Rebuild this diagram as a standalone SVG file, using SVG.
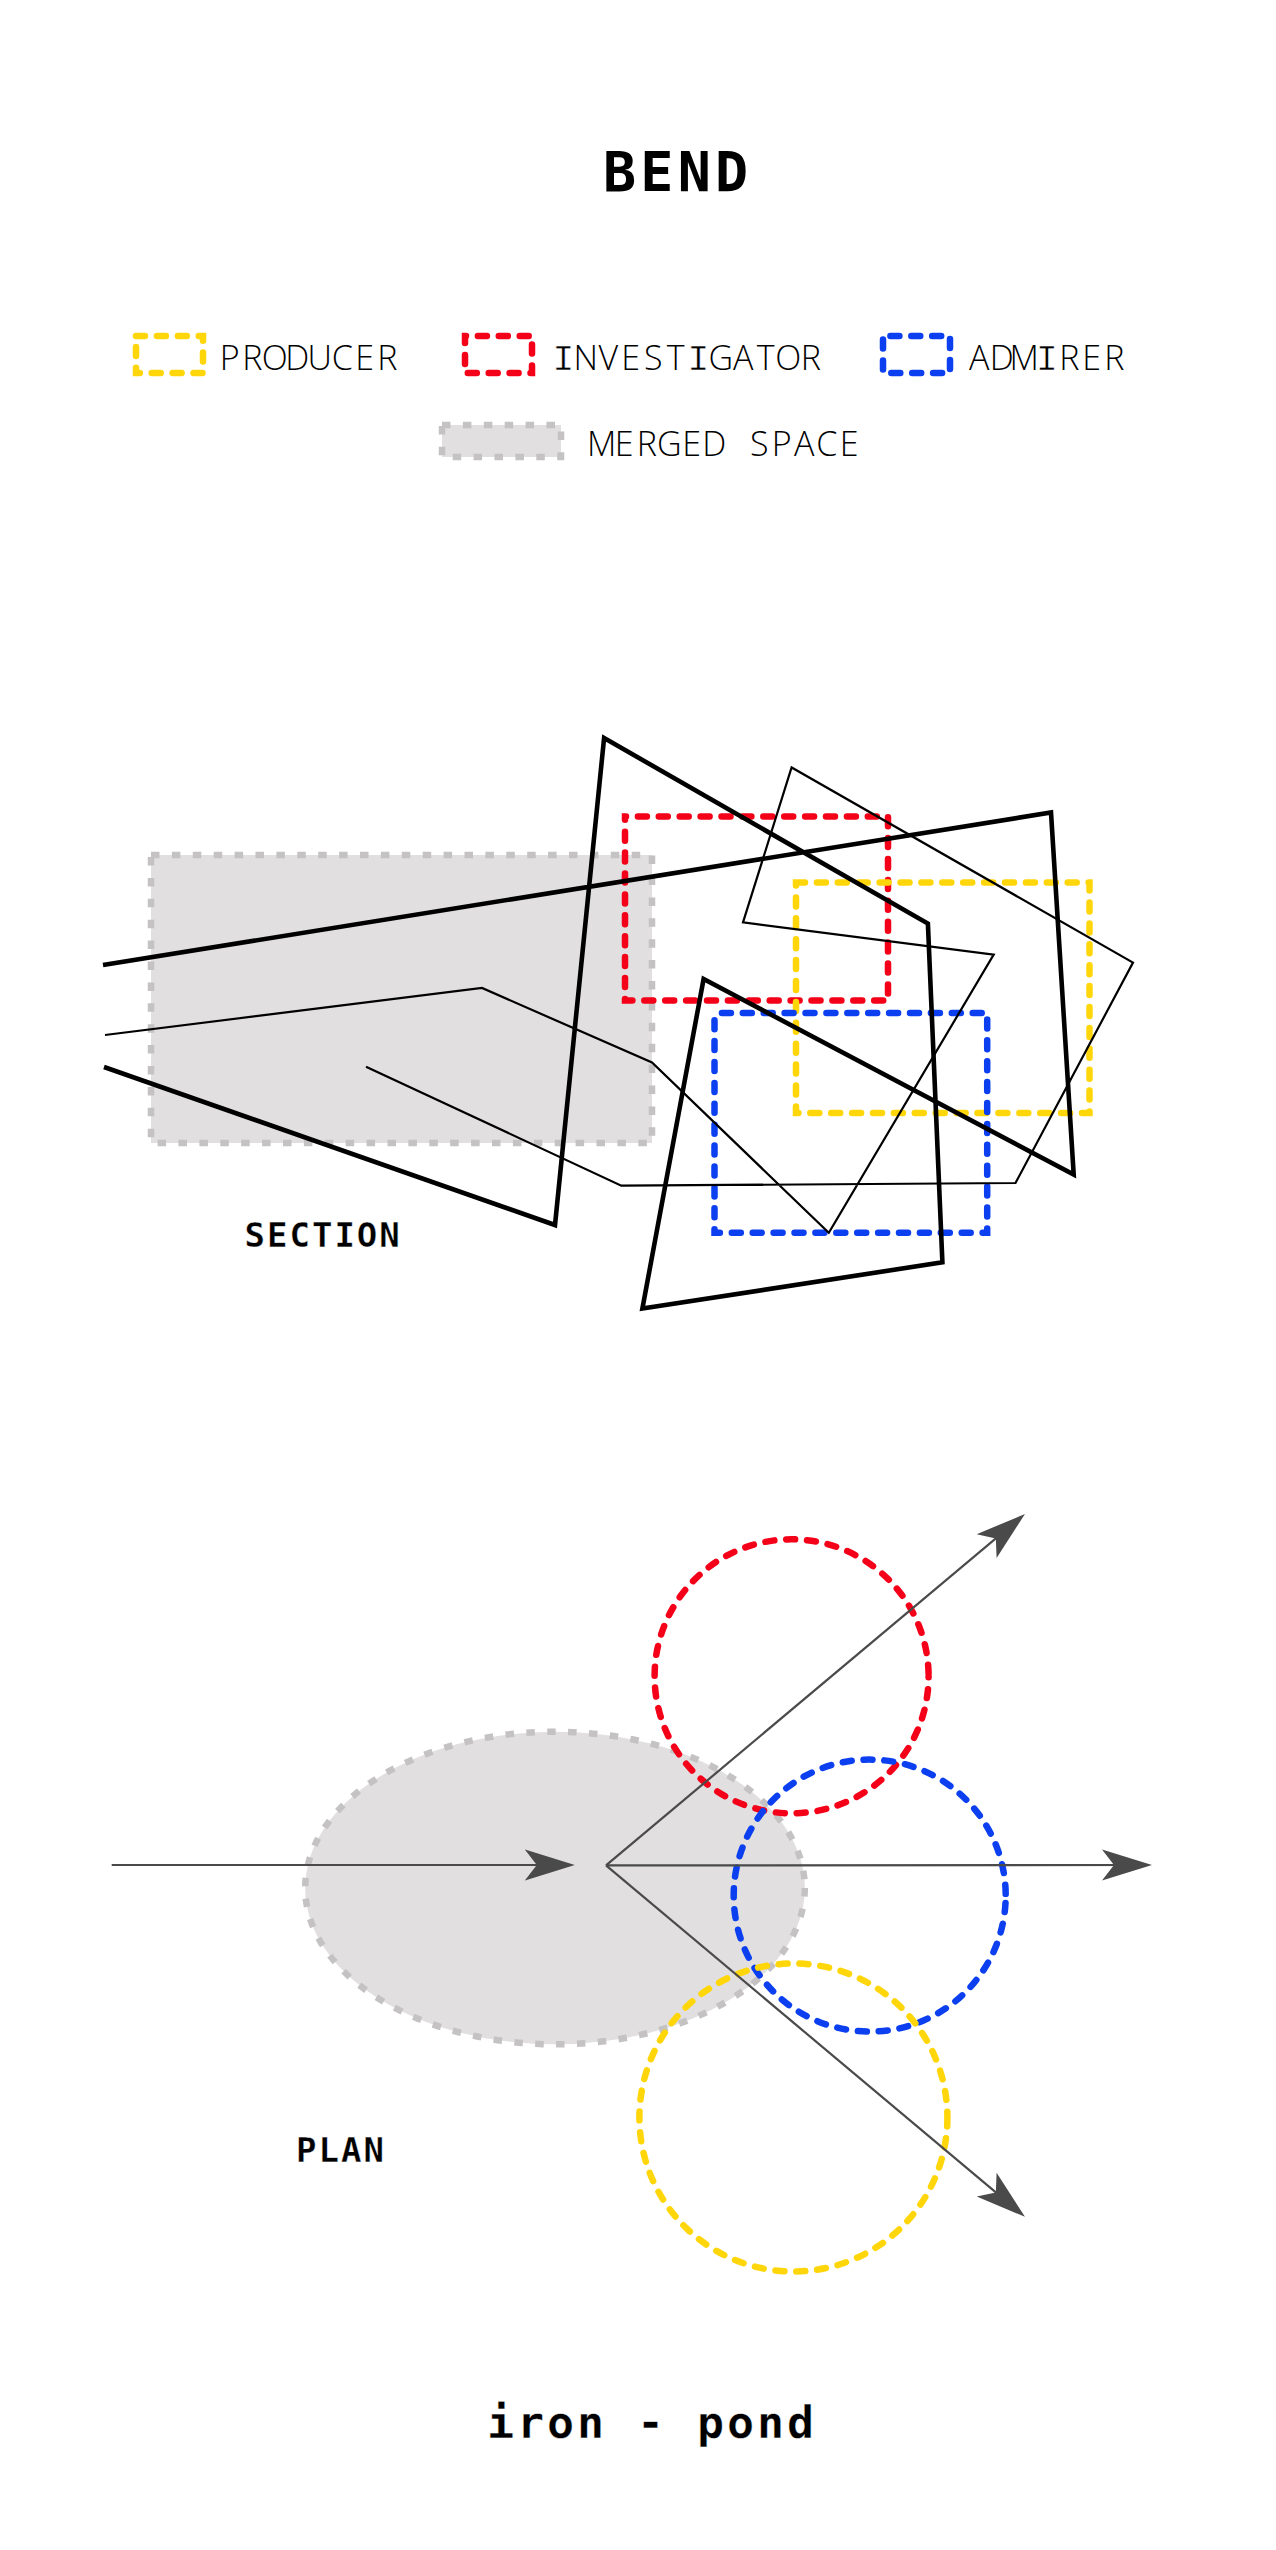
<svg xmlns="http://www.w3.org/2000/svg" width="1276" height="2550" viewBox="0 0 1276 2550">
<style>
text{font-family:"DejaVu Sans Mono","Liberation Mono",monospace;fill:#000}
.b{font-weight:700;font-size:34px;letter-spacing:2px;stroke:#fff;stroke-width:.3px}
.l{font-family:"Open Sans","Noto Sans",sans-serif;font-weight:300;font-size:34px;text-anchor:middle}
.i{font-family:"Liberation Mono",monospace;font-weight:400;font-size:37px;stroke:#fff;stroke-width:.7px}
.y,.r,.u{fill:none;stroke-width:6.500;stroke-dasharray:9 11.900;stroke-linecap:round}
.y{stroke:#ffd60a}.r{stroke:#f40018;stroke-dashoffset:8}.u{stroke:#0b3ff0;stroke-dashoffset:13.500}
.g{fill:#e1dfe0;stroke:#c4c2c3;stroke-width:6.500;stroke-dasharray:8.500 12.400}
.k{fill:none;stroke:#000;stroke-linejoin:miter}
.a{fill:none;stroke:#4a4a4a;stroke-width:2.200}
</style>
<defs><marker id="ah" markerUnits="userSpaceOnUse" markerWidth="54" markerHeight="34" refX="40" refY="17" orient="auto"><path d="M0,1.500L50,17L0,32.500L12,17Z" fill="#4a4a4a"/></marker></defs>
<rect width="1276" height="2550" fill="#fff"/>
<g id="title"><text x="603" y="191" font-size="55" font-weight="700" letter-spacing="4.200">BEND</text></g>
<g id="legend">
<g id="legend-producer"><rect class="y" x="136" y="336" width="67" height="37"/><text class="l" y="369.500" x="229.750 252.250 274.750 297.250 319.750 342.250 364.750 387.250">PRODUCER</text></g>
<g id="legend-investigator"><rect class="r" x="465" y="336" width="67" height="37"/><text class="l" y="369.500" x="563.250 585.750 608.250 630.750 653.250 675.750 698.250 720.750 743.250 765.750 788.250 810.750"><tspan class="i">I</tspan>NVEST<tspan class="i">I</tspan>GATOR</text></g>
<g id="legend-admirer"><rect class="u" x="883" y="336" width="67" height="37"/><text class="l" y="369.500" x="979.250 1001.750 1024.250 1046.750 1069.250 1091.750 1114.250">ADM<tspan class="i">I</tspan>RER</text></g>
<g id="legend-merged"><rect class="g" x="442" y="425" width="119" height="32"/><text class="l" y="456" x="601.750 624.250 646.750 669.250 691.750 714.250 736.750 759.250 781.750 804.250 826.750 849.250">MERGED SPACE</text></g>
</g>
<g id="section">
<g id="section-merged"><rect class="g" x="151" y="855" width="501" height="288"/></g>
<g id="section-investigator"><rect class="r" x="625" y="816.500" width="263" height="184"/></g>
<g id="section-producer"><rect class="y" x="796" y="882.500" width="293.500" height="230.500"/></g>
<g id="section-admirer"><rect class="u" x="714.500" y="1013" width="272.700" height="219.800"/></g>
<g id="section-lines">
<polyline class="k" stroke-width="4.600" points="103,965 1051,812.500 1073.700,1174.600 703.600,979 642.400,1308.600 942.400,1262.300 927.900,923.600 604.100,738 555,1225 104,1067"/>
<polyline class="k" stroke-width="2.200" points="105,1035 482,988 652,1062.500 828.800,1232.800 993.700,954.600 743,922.400 791.600,767.500 1133,962.600 1015.500,1183 621.300,1185.700 366,1066.700"/>
</g>
<text id="section-label" class="b" x="244.500" y="1246.500">SECTION</text>
</g>
<g id="plan">
<g id="plan-merged"><ellipse class="g" cx="555" cy="1888" rx="249.800" ry="156.300"/></g>
<g id="plan-investigator"><circle class="r" cx="791.600" cy="1676.300" r="137"/></g>
<g id="plan-admirer"><circle class="u" cx="869.700" cy="1895.600" r="136"/></g>
<g id="plan-producer"><circle class="y" cx="793.400" cy="2117.500" r="154"/></g>
<text id="plan-label" class="b" x="296" y="2161.500">PLAN</text>
</g>
<g id="connectors">
<line class="a" x1="111.700" y1="1865" x2="564.800" y2="1865" marker-end="url(#ah)"/>
<line class="a" x1="606" y1="1865.400" x2="1017.300" y2="1520.400" marker-end="url(#ah)"/>
<line class="a" x1="606" y1="1865.400" x2="1142" y2="1865" marker-end="url(#ah)"/>
<line class="a" x1="606" y1="1865.400" x2="1017.300" y2="2210.400" marker-end="url(#ah)"/>
</g>
<g id="footer"><text x="487" y="2438" font-size="45" font-weight="700" letter-spacing="2.900" stroke="#fff" stroke-width=".3">iron - pond</text></g>
</svg>
